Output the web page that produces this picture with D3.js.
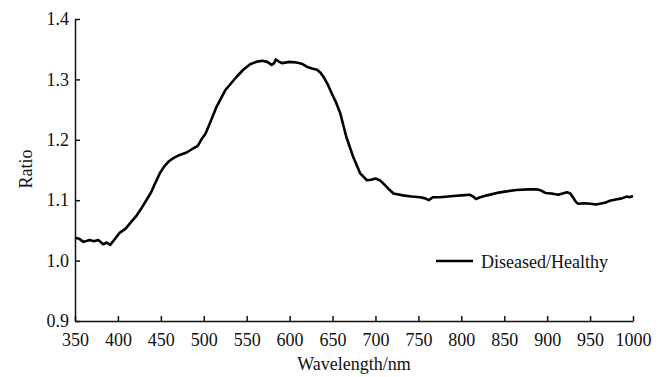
<!DOCTYPE html>
<html>

<head>
    <meta charset="utf-8">
    <style>
        body { margin: 0; background: #fff; }
        svg text { font-family: "Liberation Serif", "Times New Roman", serif; fill: #111; }
        .axis path, .axis line { stroke: #111; stroke-width: 1.5px; }
        .line { fill: none; stroke: #000; stroke-width: 2.6px; stroke-linejoin: round; }
    </style>
</head>

<body>
    <script src="https://cdn.jsdelivr.net/npm/d3@7"></script>
    <script>
        // wavelength (nm) and diseased/healthy ratio
        var wavelengths = [350, 355, 360, 367, 372, 377, 383, 387, 391, 396, 402, 409, 416, 422, 428, 434, 439, 444, 449,
            454, 459, 465, 472, 480, 488, 493, 497, 502, 507, 515, 525, 538, 546, 554, 561, 568, 574, 579, 582, 584, 587,
            591, 600, 608, 614, 620, 626, 632, 636, 640, 645, 649, 654, 659, 666, 674, 682, 690, 695, 700, 705, 709, 715,
            721, 732, 742, 752, 758, 762, 767, 775, 791, 800, 810, 814, 817, 822, 830, 845, 864, 878, 888, 893, 898, 905,
            913, 918, 923, 927, 930, 933, 936, 943, 950, 957, 964, 968, 973, 980, 987, 993, 996, 1000];
        var ratios = [1.038, 1.036, 1.031, 1.034, 1.032, 1.034, 1.027, 1.030, 1.026, 1.035, 1.046, 1.053, 1.065, 1.075,
            1.088, 1.102, 1.114, 1.130, 1.145, 1.156, 1.164, 1.170, 1.175, 1.179, 1.186, 1.190, 1.200, 1.210, 1.227, 1.255,
            1.282, 1.304, 1.316, 1.325, 1.329, 1.331, 1.329, 1.324, 1.327, 1.333, 1.330, 1.327, 1.329, 1.328, 1.326, 1.321,
            1.318, 1.316, 1.311, 1.303, 1.290, 1.277, 1.262, 1.244, 1.205, 1.172, 1.145, 1.133, 1.134, 1.136, 1.133, 1.128,
            1.119, 1.111, 1.108, 1.106, 1.105, 1.103, 1.100, 1.105, 1.105, 1.107, 1.108, 1.109, 1.106, 1.102, 1.105, 1.108,
            1.113, 1.117, 1.118, 1.118, 1.116, 1.112, 1.111, 1.109, 1.111, 1.113, 1.111, 1.105, 1.098, 1.094, 1.095, 1.094,
            1.093, 1.095, 1.096, 1.099, 1.101, 1.103, 1.106, 1.105, 1.107];
        var xTicks = [350, 400, 450, 500, 550, 600, 650, 700, 750, 800, 850, 900, 950, 1000];
        var yTicks = [0.9, 1.0, 1.1, 1.2, 1.3, 1.4];
        var seriesName = "Diseased/Healthy";

        var data = wavelengths.map(function (w, i) { return { w: w, r: ratios[i] }; });

        var margin = { top: 19, right: 34, bottom: 56, left: 75 },
            width = 667 - margin.left - margin.right,
            height = 377 - margin.top - margin.bottom;

        var x = d3.scaleLinear().domain([350, 1000]).range([0, width]);
        var y = d3.scaleLinear().domain([0.9, 1.4]).range([height, 0]);

        var svg = d3.select("body").append("svg")
            .attr("width", 667)
            .attr("height", 377)
            .append("g")
            .attr("transform", "translate(" + margin.left + "," + margin.top + ")");

        // curve
        var line = d3.line()
            .x(function (d) { return x(d.w); })
            .y(function (d) { return y(d.r); });

        svg.append("path")
            .datum(data)
            .attr("class", "line")
            .attr("d", line);

        // axes, ticks pointing inwards
        svg.append("g")
            .attr("class", "axis")
            .attr("transform", "translate(0," + height + ")")
            .call(d3.axisBottom(x).tickValues(xTicks).tickFormat(d3.format("d"))
                .tickSizeInner(-5).tickSizeOuter(0).tickPadding(12))
            .call(function (g) { g.selectAll("text").style("font-size", "18px"); });

        svg.append("g")
            .attr("class", "axis")
            .call(d3.axisLeft(y).tickValues(yTicks).tickFormat(d3.format(".1f"))
                .tickSizeInner(-5).tickSizeOuter(0).tickPadding(6))
            .call(function (g) { g.selectAll("text").style("font-size", "18px"); });

        // axis titles
        svg.append("text")
            .attr("transform", "translate(" + (width / 2) + "," + (height + 49) + ")")
            .style("text-anchor", "middle")
            .style("font-size", "18px")
            .text("Wavelength/nm");

        svg.append("text")
            .attr("transform", "translate(" + (32 - margin.left) + "," + (height / 2 - 1) + ") rotate(-90)")
            .style("text-anchor", "middle")
            .style("font-size", "18px")
            .text("Ratio");

        // legend
        var legend = svg.append("g")
            .attr("transform", "translate(" + (436 - margin.left) + "," + (261 - margin.top) + ")");
        legend.append("line")
            .attr("x1", 0).attr("x2", 37)
            .attr("stroke", "#000").attr("stroke-width", 2.6);
        legend.append("text")
            .attr("x", 45).attr("y", 7)
            .style("font-size", "18px")
            .text(seriesName);
    </script>
</body>

</html>
